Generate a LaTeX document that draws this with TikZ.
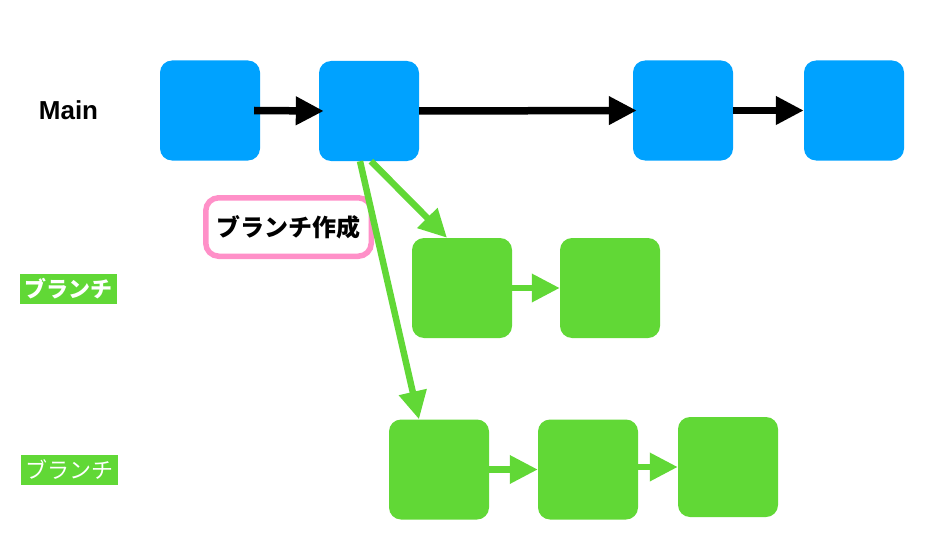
\documentclass[tikz,border=0pt]{standalone}
\usepackage{fontspec}
\setmainfont{Liberation Sans}
\newfontfamily\jp{Noto Sans CJK JP}
\usetikzlibrary{arrows.meta}
\definecolor{kblue}{HTML}{00A2FF}
\definecolor{kgreen}{HTML}{61D836}
\definecolor{kpink}{HTML}{FF90C8}
\tikzset{
  commit/.style={rectangle, rounded corners=12pt, minimum width=100pt, minimum height=100pt, inner sep=0pt, fill=#1},
  blackarrow/.style={line width=7.5pt, draw=black, -{Triangle[length=28pt,width=27pt]}},
  greenarrow/.style={line width=6.5pt, draw=kgreen, -{Triangle[length=28pt,width=27pt]}},
  tag/.style={fill=kgreen, text=white, minimum width=97pt, minimum height=30pt, inner sep=0pt, font=\jp\fontsize{22pt}{22pt}\selectfont},
}
\begin{document}
\begin{tikzpicture}[x=1pt,y=-1pt]
\useasboundingbox (0,0) rectangle (936,559);
% main line
\node[commit=kblue] (b1) at (210,110.5) {};
\node[commit=kblue] (b2) at (369,111) {};
\node[commit=kblue] (b3) at (683,110.5) {};
\node[commit=kblue] (b4) at (854,110.5) {};
% branch 1
\node[commit=kgreen] (g1) at (462,288) {};
\node[commit=kgreen] (g2) at (610,288) {};
% branch 2
\node[commit=kgreen] (h1) at (439,469.5) {};
\node[commit=kgreen] (h2) at (588,469.5) {};
\node[commit=kgreen] (h3) at (728,467) {};
% labels
\node[font=\bfseries\fontsize{26pt}{26pt}\selectfont] (main) at (68.5,110.5) {Main};
\node[tag, font=\jp\bfseries\fontsize{22pt}{22pt}\selectfont] (t1) at (68.5,289) {ブランチ};
\node[tag] (t2) at (69.5,470) {ブランチ};
\node[draw=kpink, line width=5.5pt, rounded corners=13pt, fill=white, minimum width=165.5pt, minimum height=58.5pt, inner sep=0pt, font=\jp\bfseries\fontsize{24pt}{24pt}\selectfont] (create) at (288.5,227) {ブランチ作成};
% arrows
\draw[blackarrow] ([xshift=-6pt]b1.east) -- ([xshift=5pt]b2.west);
\draw[blackarrow] (b2.east) -- ([xshift=4pt]b3.west);
\draw[blackarrow] (b3.east) -- (b4.west);
\draw[greenarrow] (g1.east) -- (g2.west);
\draw[greenarrow] (h1.east) -- (h2.west);
\draw[greenarrow] (h2.east |- h3.west) -- (h3.west);
\draw[greenarrow] ([xshift=-9pt]b2.south) -- ([xshift=-20pt]h1.north);
\draw[greenarrow] ([xshift=2pt]b2.south) -- ([xshift=-15pt]g1.north);
\end{tikzpicture}
\end{document}
